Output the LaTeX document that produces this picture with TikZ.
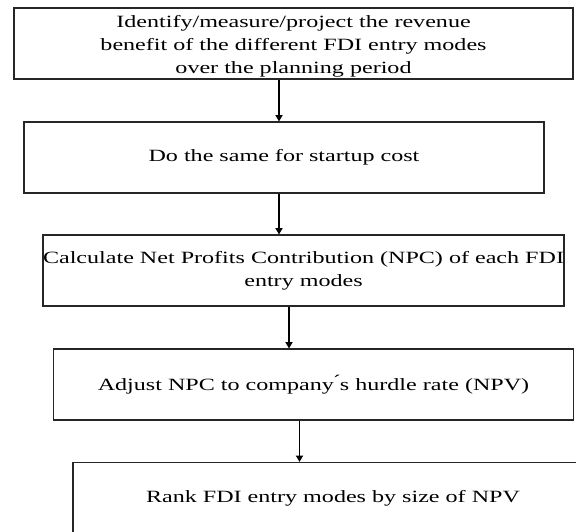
\documentclass[tikz,border=0pt]{standalone}
\usepackage{fontspec}
\setmainfont{Liberation Serif}[FakeStretch=1.4]
\usepackage{tikz}
\usetikzlibrary{
	arrows.meta,
	positioning,
	calc
}
\tikzset{
  % arrow
	cstra/.style      ={-{Triangle[width=3.6pt,length=3.2pt]}, line width=0.6pt}, % down arrow
  % node
	cstnode/.style    ={draw=black!85,fill=white,text=black,line width=0.6pt,inner sep=0pt,
	                    minimum width=260pt,minimum height=35.5pt,align=center,
	                    font=\fontsize{8.6pt}{11.5pt}\selectfont},
	cstnodew/.style   ={cstnode,minimum width=279.5pt}
}
\begin{document}
\begin{tikzpicture}[x=0.5pt,y=-0.5pt]
			\useasboundingbox (0,0) rectangle (576,531);
			\node[cstnodew] (revenue) at (293.5,43.5) {\rule{0pt}{9pt}Identify/measure/project the revenue\\benefit of the different FDI entry modes\\over the planning period};
			\node[cstnode] (startup) at (284,157.5) {Do the same for startup cost};
			\node[cstnode] (npc) at (303.5,270.5) {Calculate Net Profits Contribution (NPC) of each FDI\\entry modes};
			\node[cstnode] (npv) at (313.5,384.5) {Adjust NPC to company\'{}s hurdle rate (NPV)};
			\node[cstnode] (rank) at (333,498) {Rank FDI entry modes by size of NPV};
			% arrow columns
			\coordinate (a1) at (279,0);
			\coordinate (a2) at (279,0);
			\coordinate (a3) at (289,0);
			\coordinate (a4) at (299.5,0);
			\draw[cstra] (revenue.south -| a1)--(startup.north -| a1);
			\draw[cstra] (startup.south -| a2)--(npc.north -| a2);
			\draw[cstra] (npc.south -| a3)--(npv.north -| a3);
			\draw[cstra] (npv.south -| a4)--(rank.north -| a4);
		\end{tikzpicture}
\end{document}
